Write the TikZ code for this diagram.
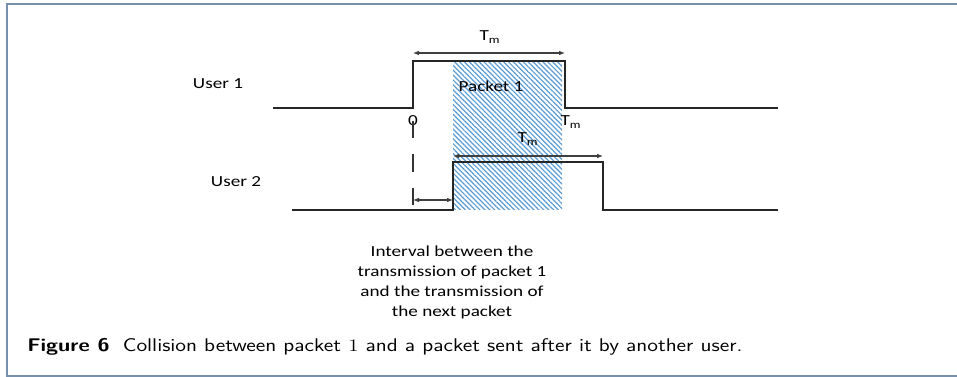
\documentclass[tikz,border=0pt]{standalone}
\usepackage{fontspec}
\newfontfamily\slidefont[FakeStretch=1.25]{Carlito}
\usepackage{tikz}
\usetikzlibrary{positioning,calc}
\usetikzlibrary{arrows.meta,patterns.meta}
\definecolor{framecol}{HTML}{7890AB}
\definecolor{hatchcol}{HTML}{5B9BD5}
\tikzset{
  lbl/.style={font=\slidefont\fontsize{11.5}{14}\selectfont, inner sep=1pt},
  signal/.style={line width=1.2pt, black!85},
  span/.style={{Latex[length=4.5pt,width=3.5pt]}-{Latex[length=4.5pt,width=3.5pt]}, line width=0.8pt, black!75},
  packet/.style={pattern={Lines[angle=-45,distance=2.6pt,line width=0.9pt]}, pattern color=hatchcol},
  border/.style={line width=1.5pt, framecol},
  caption/.style={anchor=west, inner sep=0pt, font=\sffamily\fontsize{12.5}{15}\selectfont}
}

\begin{document}
\begin{tikzpicture}[x=0.75pt,y=-0.75pt]
  \useasboundingbox (0,0) rectangle (957,377);
  % frame of the figure
  \coordinate (ftl) at (7,4);
  \coordinate (ftr) at (957,4);
  \coordinate (fbl) at (7,376);
  \coordinate (fbr) at (957,376);
  \draw[border] (ftr) -- (ftl) -- (fbl) -- (fbr);

  % packet 1 shading
  \coordinate (p1a) at (453,61);
  \coordinate (p1b) at (562,210);
  \fill[packet] (p1a) rectangle (p1b);

  % user 1 signal
  \coordinate (u1s) at (273,108);
  \coordinate (u1r) at (413,108);
  \coordinate (u1t) at (413,61);
  \coordinate (u1e) at (565,61);
  \coordinate (u1f) at (565,108);
  \coordinate (u1z) at (778,108);
  \draw[signal] (u1s) -- (u1r) -- (u1t) -- (u1e) -- (u1f) -- (u1z);

  % user 2 signal
  \coordinate (u2s) at (292,210);
  \coordinate (u2r) at (453,210);
  \coordinate (u2t) at (453,162);
  \coordinate (u2e) at (603,162);
  \coordinate (u2f) at (603,210);
  \coordinate (u2z) at (778,210);
  \draw[signal] (u2s) -- (u2r) -- (u2t) -- (u2e) -- (u2f) -- (u2z);

  % labels
  \node[lbl] (user1) at (218,84) {User 1};
  \node[lbl] (user2) at (236,182) {User 2};
  \node[lbl] (pk1) at (491,86) {Packet 1};
  \node[lbl] (zero) at (413,121) {0};
  \node[lbl] (tend) at (571,122) {T\textsubscript{m}};
  \node[lbl] (tm1) at (490,37) {T\textsubscript{m}};
  \node[lbl] (tm2) at (528,139) {T\textsubscript{m}};

  % durations
  \coordinate (a1l) at (413,53);
  \coordinate (a1r) at (565,53);
  \draw[span] (a1l) -- (a1r);
  \coordinate (a2l) at (453,156);
  \coordinate (a2r) at (603,156);
  \draw[span] (a2l) -- (a2r);

  % start of packet 1 and the interval
  \coordinate (d0) at (413,210);
  \draw[line width=0.9pt, black!80, dash pattern=on 13pt off 12pt] (zero.center) -- (d0);
  \coordinate (ivl) at (413,200);
  \coordinate (ivr) at (453,200);
  \draw[span] (ivl) -- (ivr);
  \node[lbl, align=center, font=\slidefont\fontsize{11.5}{15}\selectfont] (intv) at (452,282)
    {Interval between the\\transmission of packet 1\\and the transmission of\\the next packet};

  % caption
  \node[caption] (cap) at (27,347)
    {\scalebox{1.31}[1.1]{\textbf{Figure 6}\hspace{0.6em}Collision between packet $1$ and a packet sent after it by another user.}};
\end{tikzpicture}
\end{document}
